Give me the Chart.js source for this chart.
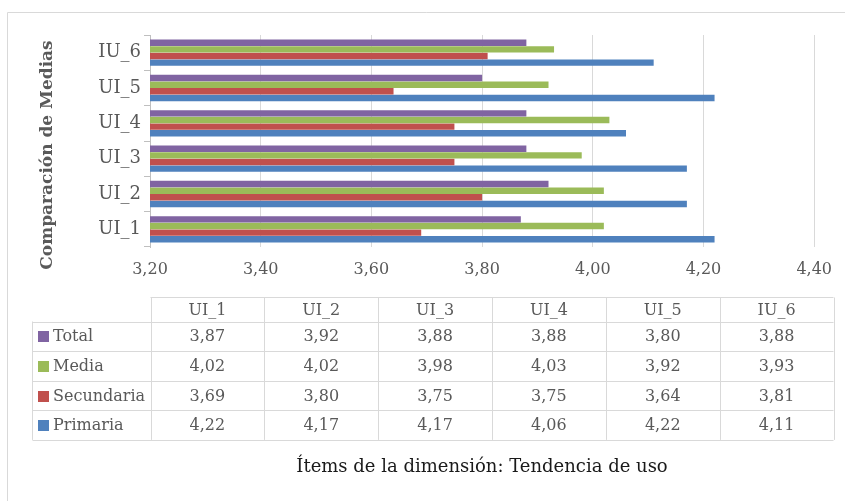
<!DOCTYPE html>
<html>
<head>
  <title>Comparación de Medias</title>
  <script src="https://cdn.jsdelivr.net/npm/chart.js@4.4.1/dist/chart.umd.min.js"></script>
  <style>
    body { margin: 0; background: #fff; }
    #wrap { width: 845px; height: 501px; position: relative; }
  </style>
</head>
<body>
<div id="wrap"><canvas id="myChart" width="845" height="501"></canvas></div>
<script>
// data (also printed in the table)
const items = ['UI_1', 'UI_2', 'UI_3', 'UI_4', 'UI_5', 'IU_6'];
const primaria   = [4.22, 4.17, 4.17, 4.06, 4.22, 4.11];
const secundaria = [3.69, 3.80, 3.75, 3.75, 3.64, 3.81];
const media      = [4.02, 4.02, 3.98, 4.03, 3.92, 3.93];
const total      = [3.87, 3.92, 3.88, 3.88, 3.80, 3.88];
const xTicks = [3.2, 3.4, 3.6, 3.8, 4.0, 4.2, 4.4];

const FONT = "'DejaVu Serif', 'Liberation Serif', serif";
const GREY = '#595959';
Chart.defaults.font.family = FONT;
Chart.defaults.font.size = 15;
Chart.defaults.color = GREY;

const fmt = v => v.toFixed(2).replace('.', ',');

// table under the chart + frame + titles
const extras = {
  id: 'extras',
  afterDraw(chart) {
    const ctx = chart.ctx;
    ctx.save();
    // outer frame (only top/left visible in the crop)
    ctx.strokeStyle = '#d9d9d9';
    ctx.lineWidth = 1;
    ctx.beginPath();
    ctx.moveTo(7.5, 501);
    ctx.lineTo(7.5, 12.5);
    ctx.lineTo(845, 12.5);
    ctx.stroke();

    // y title
    ctx.save();
    ctx.translate(48, 155);
    ctx.rotate(-Math.PI / 2);
    ctx.font = "bold 17px " + FONT;
    ctx.fillStyle = GREY;
    ctx.textAlign = 'center';
    ctx.textBaseline = 'middle';
    ctx.fillText('Comparación de Medias', 0, 0);
    ctx.restore();

    // data table (rows in dataset order: Total first)
    const left = 32.5, colStart = 150.5, right = 833.5;
    const colW = (right - colStart) / items.length;
    const headTop = 297.5, headBot = 321.5;
    const rowH = 29.6;
    const sets = chart.data.datasets;
    const bottom = headBot + rowH * sets.length;

    ctx.strokeStyle = '#d9d9d9';
    ctx.beginPath();
    ctx.moveTo(colStart, headTop); ctx.lineTo(right, headTop);
    for (let r = 0; r <= sets.length; r++) {
      const y = Math.round(headBot + r * rowH) + 0.5;
      ctx.moveTo(left, y); ctx.lineTo(right, y);
    }
    ctx.moveTo(left, headBot); ctx.lineTo(left, bottom);
    for (let c = 0; c <= items.length; c++) {
      const x = Math.round(colStart + c * colW) + 0.5;
      ctx.moveTo(x, headTop); ctx.lineTo(x, bottom);
    }
    ctx.stroke();

    ctx.font = "16px " + FONT;
    ctx.fillStyle = GREY;
    ctx.textBaseline = 'middle';
    ctx.textAlign = 'center';
    items.forEach((it, c) => {
      ctx.fillText(it, colStart + (c + 0.5) * colW, (headTop + headBot) / 2 + 1);
    });
    sets.forEach((ds, r) => {
      const yc = headBot + (r + 0.5) * rowH + 1;
      ctx.fillStyle = ds.backgroundColor;
      ctx.fillRect(38, Math.round(yc - 6), 11, 11);
      ctx.fillStyle = GREY;
      ctx.textAlign = 'left';
      ctx.fillText(ds.label, 53, yc);
      ctx.textAlign = 'center';
      ds.data.forEach((v, c) => {
        ctx.fillText(fmt(v), colStart + (c + 0.5) * colW, yc);
      });
    });

    // bottom title
    ctx.font = "18px " + FONT;
    ctx.fillStyle = '#1a1a1a';
    ctx.textAlign = 'center';
    ctx.fillText('Ítems de la dimensión: Tendencia de uso', 482, 467);
    ctx.restore();
  }
};

const ctx = document.getElementById('myChart').getContext('2d');
const myChart = new Chart(ctx, {
  type: 'bar',
  data: {
    labels: items,
    datasets: [
      { label: 'Total',      data: total,      backgroundColor: '#8064a2' },
      { label: 'Media',      data: media,      backgroundColor: '#9bbb59' },
      { label: 'Secundaria', data: secundaria, backgroundColor: '#c0504d' },
      { label: 'Primaria',   data: primaria,   backgroundColor: '#4f81bd' }
    ]
  },
  options: {
    indexAxis: 'y',
    responsive: false,
    animation: false,
    devicePixelRatio: 1,
    categoryPercentage: 0.75,
    barPercentage: 0.97,
    layout: { padding: { top: 35, right: 30, left: 0, bottom: 0 } },
    plugins: { legend: { display: false }, tooltip: { enabled: false } },
    scales: {
      x: {
        min: 3.2,
        max: 4.4,
        afterFit: s => { s.height = 254; },
        afterBuildTicks: s => { s.ticks = xTicks.map(v => ({ value: v })); },
        ticks: { padding: 13, callback: v => fmt(v), maxRotation: 0, font: { size: 16 } },
        grid: { color: '#d9d9d9', drawTicks: false },
        border: { display: false }
      },
      y: {
        reverse: true,
        afterFit: s => { s.width = 150; },
        ticks: { padding: 3, font: { size: 18 } },
        grid: { drawOnChartArea: false, tickLength: 6, color: '#bfbfbf' },
        border: { color: '#bfbfbf' }
      }
    }
  },
  plugins: [extras]
});
</script>
</body>
</html>
